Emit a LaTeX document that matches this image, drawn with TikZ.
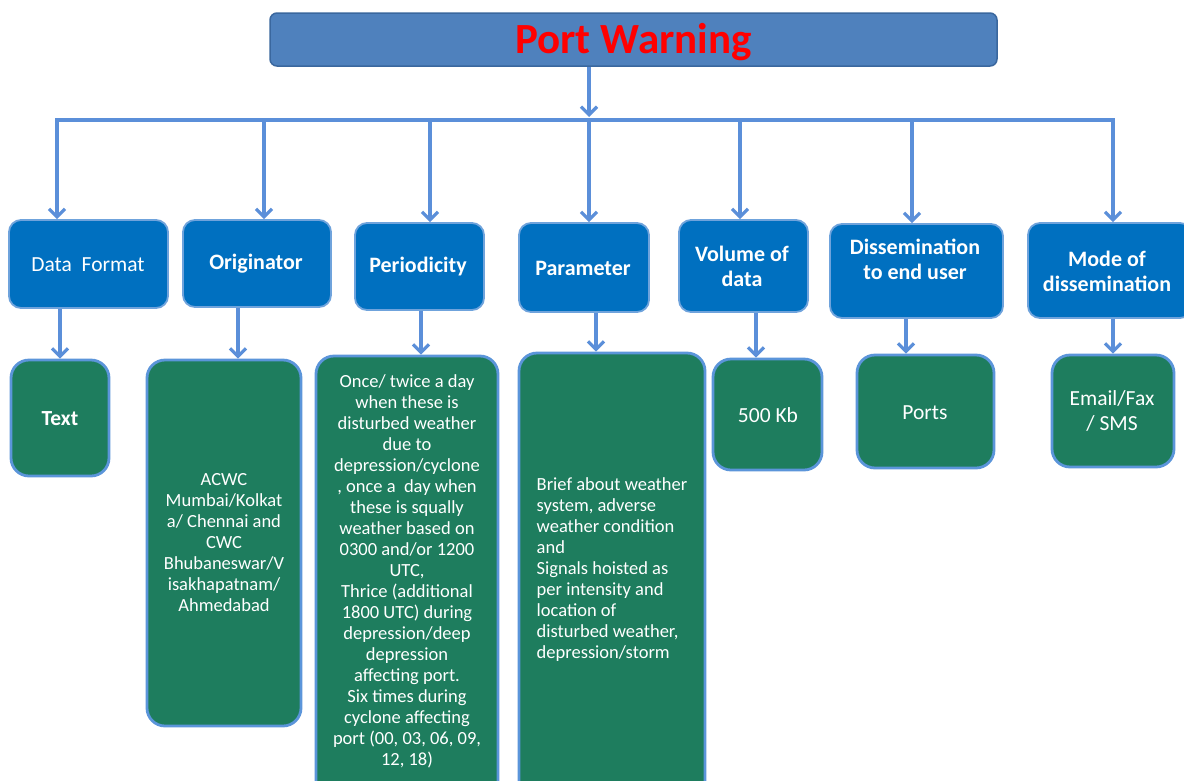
\documentclass[tikz,border=0pt]{standalone}
\usepackage{fontspec}
\setmainfont{Carlito}
\usetikzlibrary{arrows.meta}
\definecolor{titlefill}{HTML}{4F81BD}
\definecolor{titleedge}{HTML}{3A679E}
\definecolor{bluefill}{HTML}{0070C0}
\definecolor{blueedge}{HTML}{6FA3DC}
\definecolor{greenfill}{HTML}{1E7D5E}
\definecolor{greenedge}{HTML}{5B95DA}
\definecolor{connc}{HTML}{5B8FD9}
\tikzset{
  titlebox/.style={draw=titleedge, line width=1.5pt, fill=titlefill, rounded corners=7pt, inner sep=0pt},
  bluebox/.style={draw=blueedge, line width=1.8pt, fill=bluefill, rounded corners=12pt, inner sep=0pt},
  greenbox/.style={draw=greenedge, line width=2.8pt, fill=greenfill, rounded corners=18pt, inner sep=0pt},
  bluetxt/.style={text=white, font=\fontsize{22}{25}\selectfont\bfseries, align=center, inner sep=0pt},
  greentxt/.style={text=white, font=\fontsize{18.5}{21}\selectfont, align=center, inner sep=0pt},
  smalltxt/.style={text=white, font=\fontsize{21.5}{25}\selectfont, align=center, inner sep=0pt},
  conn/.style={draw=connc, line width=3.4pt},
  arr/.style={conn, -{Straight Barb[length=8pt,width=16pt,line width=3.2pt]}}
}
\begin{document}
\begin{tikzpicture}[x=1pt,y=-1pt]
\useasboundingbox (0,0) rectangle (1184,780);
\clip (0,0) rectangle (1184,780);
\fill[white] (0,0) rectangle (1184,780);

% title
\node[titlebox, minimum width=727pt, minimum height=53pt] (title) at (633.5,39.5) {};
\node[text=red, font=\fontsize{43}{46}\selectfont\bfseries, inner sep=0pt] (titletxt) at (633.5,42) {Port Warning};

% blue boxes
\node[bluebox, minimum width=159pt, minimum height=88pt] (b1) at (88.5,264) {};
\node[bluebox, minimum width=148pt, minimum height=87pt] (b2) at (257,263.5) {};
\node[bluebox, minimum width=129pt, minimum height=87pt] (b3) at (419.5,266.5) {};
\node[bluebox, minimum width=130pt, minimum height=89pt] (b4) at (584,267.5) {};
\node[bluebox, minimum width=129pt, minimum height=92pt] (b5) at (743.5,266) {};
\node[bluebox, minimum width=173pt, minimum height=94pt] (b6) at (916.5,271) {};
\node[bluebox, minimum width=164pt, minimum height=95pt] (b7) at (1110,270.5) {};

\node[bluetxt, font=\fontsize{21.5}{25}\selectfont] (t1) at (88,265) {Data\ \ Format};
\node[bluetxt] (t2) at (256,264) {Originator};
\node[bluetxt] (t3) at (418,267) {Periodicity};
\node[bluetxt] (t4) at (583,268) {Parameter};
\node[bluetxt] (t5) at (742,266) {Volume of\\data};
\node[bluetxt] (t6) at (915,259) {Dissemination\\to end user};
\node[bluetxt] (t7) at (1107,271) {Mode of\\dissemination};

% green boxes
\node[greenbox, minimum width=98pt, minimum height=116pt] (g1) at (60,418) {};
\node[greenbox, minimum width=154pt, minimum height=366pt] (g2) at (224,543) {};
\node[greenbox, minimum width=182pt, minimum height=444pt] (g3) at (407,578) {};
\node[greenbox, minimum width=186pt, minimum height=447pt] (g4) at (612,576.5) {};
\node[greenbox, minimum width=109pt, minimum height=111pt] (g5) at (767.5,414.5) {};
\node[greenbox, minimum width=137pt, minimum height=113pt] (g6) at (925.5,411.5) {};
\node[greenbox, minimum width=122pt, minimum height=112pt] (g7) at (1113,411) {};

\node[smalltxt, font=\fontsize{21.5}{25}\selectfont\bfseries] (gt1) at (60,419) {Text};
\node[greentxt] (gt2) at (224,543) {ACWC\\Mumbai/Kolkat\\a/ Chennai and\\CWC\\Bhubaneswar/V\\isakhapatnam/\\Ahmedabad};
\node[greentxt] (gt3) at (407,571) {Once/ twice a day\\when these is\\disturbed weather\\due to\\depression/cyclone\\, once a\ \ day when\\these is squally\\weather based on\\0300 and/or 1200\\UTC,\\Thrice (additional\\1800 UTC) during\\depression/deep\\depression\\affecting port.\\Six times during\\cyclone affecting\\port (00, 03, 06, 09,\\12, 18)};
\node[greentxt, align=left] (gt4) at (612,570) {Brief about weather\\system, adverse\\weather condition\\and\\Signals hoisted as\\per intensity and\\location of\\disturbed weather,\\depression/storm};
\node[smalltxt] (gt5) at (768,415) {500 Kb};
\node[smalltxt] (gt6) at (925,413) {Ports};
\node[smalltxt] (gt7) at (1112,411) {Email/Fax\\/ SMS};

% bus coordinates
\coordinate (j1) at (57,120);
\coordinate (j2) at (264,120);
\coordinate (j3) at (430,120);
\coordinate (j4) at (589,120);
\coordinate (j5) at (740,120);
\coordinate (j6) at (912,120);
\coordinate (j7) at (1113,120);
\coordinate (jin) at (589,117);

\draw[arr] (title.south -| j4) -- (jin);
\draw[conn, line cap=rect] (j1) -- (j7);
\draw[arr] (j1) -- (j1 |- b1.north);
\draw[arr] (j2) -- (j2 |- b2.north);
\draw[arr] (j3) -- (j3 |- b3.north);
\draw[arr] (j4) -- (j4 |- b4.north);
\draw[arr] (j5) -- (j5 |- b5.north);
\draw[arr] (j6) -- (j6 |- b6.north);
\draw[arr] (j7) -- (j7 |- b7.north);

% second level
\coordinate (x1) at (60,330);
\coordinate (x2) at (238,330);
\coordinate (x3) at (421,330);
\coordinate (x4) at (596,330);
\coordinate (x5) at (756,330);
\coordinate (x6) at (906,330);
\coordinate (x7) at (1113,330);
\draw[arr] (b1.south -| x1) -- (g1.north -| x1);
\draw[arr] (b2.south -| x2) -- (g2.north -| x2);
\draw[arr] (b3.south -| x3) -- (g3.north -| x3);
\draw[arr] (b4.south -| x4) -- (g4.north -| x4);
\draw[arr] (b5.south -| x5) -- (g5.north -| x5);
\draw[arr] (b6.south -| x6) -- (g6.north -| x6);
\draw[arr] (b7.south -| x7) -- (g7.north -| x7);
\end{tikzpicture}
\end{document}
